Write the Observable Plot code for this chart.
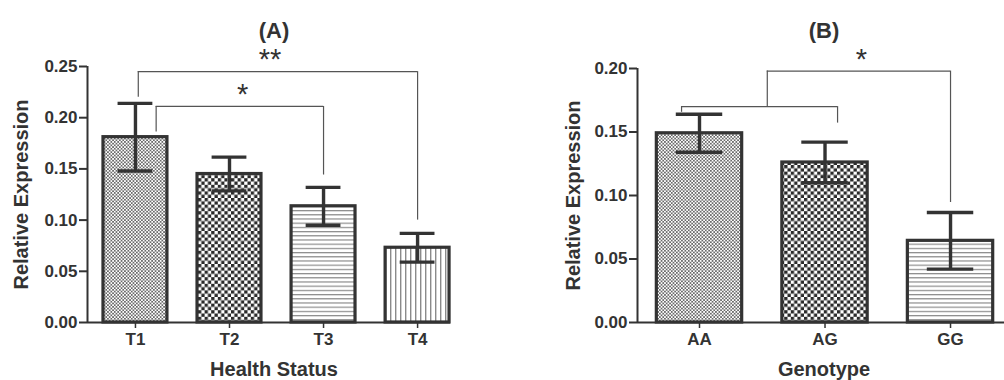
<!DOCTYPE html>
<html>
<head>
<meta charset="utf-8">
<script src="https://cdn.jsdelivr.net/npm/d3@7"></script>
<script src="https://cdn.jsdelivr.net/npm/@observablehq/plot@0.6"></script>
<style>
  html, body { margin: 0; padding: 0; background: #fff; }
  #wrap { position: relative; width: 1004px; height: 380px; overflow: hidden; }
  #panelA { position: absolute; left: 0; top: 0; }
  #panelB { position: absolute; left: 540px; top: 0; }
</style>
</head>
<body>
<div id="wrap"><div id="panelA"></div><div id="panelB"></div></div>
<script>
// ---------- Data ----------
// Panel A
const titleA = "(A)";
const xLabelA = "Health Status";
const categoriesA = ["T1", "T2", "T3", "T4"];
const meansA = [0.181, 0.145, 0.1135, 0.073];
const semA = [0.033, 0.0165, 0.0185, 0.014];
const patternsA = ["fine", "check", "hlines", "vlines"];
const yTicksA = [0, 0.05, 0.10, 0.15, 0.20, 0.25];
// significance brackets (A)
const bracketLabelsA = ["**", "*"];
const bracketLabelXA = [1.43, 1.14];
const bracketLeftA = [0.03, 0.22];
const bracketRightA = [3.0, 2.0];
const bracketTopA = [0.245, 0.211];
const bracketLeftEndA = [0.220, 0.186];
const bracketRightEndA = [0.100, 0.144];

// Panel B
const titleB = "(B)";
const xLabelB = "Genotype";
const categoriesB = ["AA", "AG", "GG"];
const meansB = [0.149, 0.126, 0.0643];
const semB = [0.015, 0.016, 0.0223];
const patternsB = ["fine", "check", "hlines"];
const yTicksB = [0, 0.05, 0.10, 0.15, 0.20];
// significance brackets (B)
const bracketLabelsB = ["", "*"];
const bracketLabelXB = [0.48, 1.29];
const bracketLeftB = [-0.143, 0.54];
const bracketRightB = [1.10, 2.0];
const bracketTopB = [0.170, 0.198];
const bracketLeftEndB = [0.1655, 0.170];
const bracketRightEndB = [0.157, 0.0945];

const yLabel = "Relative Expression";

// ---------- Styling ----------
const INK = "#333";
const FONT = "'Liberation Sans', Arial, Helvetica, sans-serif";
const BAR_HALF = 0.34;
const CAP_HALF = 0.185;

function addPatterns(svg, prefix) {
  const defs = d3.select(svg).insert("defs", ":first-child");
  // fine checker
  let p = defs.append("pattern").attr("id", prefix + "fine").attr("patternUnits", "userSpaceOnUse").attr("width", 3.4).attr("height", 3.4);
  p.append("rect").attr("width", 3.4).attr("height", 3.4).attr("fill", "#fff");
  p.append("rect").attr("width", 1.7).attr("height", 1.7).attr("fill", "#6a6a6a");
  p.append("rect").attr("x", 1.7).attr("y", 1.7).attr("width", 1.7).attr("height", 1.7).attr("fill", "#6a6a6a");
  // coarse checker
  p = defs.append("pattern").attr("id", prefix + "check").attr("patternUnits", "userSpaceOnUse").attr("width", 6.6).attr("height", 6.6);
  p.append("rect").attr("width", 6.6).attr("height", 6.6).attr("fill", "#fff");
  p.append("rect").attr("width", 3.3).attr("height", 3.3).attr("fill", "#2a2a2a");
  p.append("rect").attr("x", 3.3).attr("y", 3.3).attr("width", 3.3).attr("height", 3.3).attr("fill", "#2a2a2a");
  // horizontal lines
  p = defs.append("pattern").attr("id", prefix + "hlines").attr("patternUnits", "userSpaceOnUse").attr("width", 4.2).attr("height", 4.2);
  p.append("rect").attr("width", 4.2).attr("height", 4.2).attr("fill", "#fff");
  p.append("rect").attr("width", 4.2).attr("height", 1.2).attr("fill", "#8a8a8a");
  // vertical lines
  p = defs.append("pattern").attr("id", prefix + "vlines").attr("patternUnits", "userSpaceOnUse").attr("width", 5).attr("height", 5);
  p.append("rect").attr("width", 5).attr("height", 5).attr("fill", "#fff");
  p.append("rect").attr("width", 1.4).attr("height", 5).attr("fill", "#8a8a8a");
}

function panel({prefix, title, xLabel, cats, means, sem, pats, yTicks, yMax, xDomain,
                bLabels, bLabelX, bL, bR, bTop, bLEnd, bREnd, width, marginLeft, marginRight, marginTop,
                titleDx, titleDy, xLabelDx, xLabelDy, yLabelDx, starDy}) {
  const rows = cats.map((c, i) => ({i, cat: c, mean: means[i], lo: means[i] - sem[i], hi: means[i] + sem[i], pat: pats[i]}));
  const brackets = bLabels.map((t, k) => ({label: t, lx: bLabelX[k], x1: bL[k], x2: bR[k], top: bTop[k], lEnd: bLEnd[k], rEnd: bREnd[k]}));
  const svg = Plot.plot({
    width, height: 380,
    marginLeft, marginRight, marginTop, marginBottom: 58,
    style: {fontFamily: FONT, color: INK, background: "transparent", overflow: "visible"},
    x: {domain: xDomain},
    y: {domain: [0, yMax]},
    marks: [
      // brackets
      Plot.ruleY(brackets, {y: "top", x1: "x1", x2: "x2", stroke: "#555", strokeWidth: 1.2}),
      Plot.ruleX(brackets, {x: "x1", y1: "top", y2: "lEnd", stroke: "#555", strokeWidth: 1.2}),
      Plot.ruleX(brackets, {x: "x2", y1: "top", y2: "rEnd", stroke: "#555", strokeWidth: 1.2}),
      Plot.text(brackets, {x: "lx", y: "top", text: "label", fontSize: 29, fontWeight: "normal", fill: INK, lineAnchor: "middle", dy: starDy}),
      // bars
      Plot.rectY(rows, {x1: d => d.i - BAR_HALF, x2: d => d.i + BAR_HALF, y1: 0, y2: "mean",
        fill: d => `url(#${prefix}${d.pat})`, stroke: INK, strokeWidth: 3.2}),
      // error bars
      Plot.ruleX(rows, {x: "i", y1: "lo", y2: "hi", stroke: INK, strokeWidth: 3.4}),
      Plot.ruleY(rows, {y: "hi", x1: d => d.i - CAP_HALF, x2: d => d.i + CAP_HALF, stroke: INK, strokeWidth: 3.4}),
      Plot.ruleY(rows, {y: "lo", x1: d => d.i - CAP_HALF, x2: d => d.i + CAP_HALF, stroke: INK, strokeWidth: 3.4}),
      // axes
      Plot.ruleX([xDomain[0]], {stroke: INK, strokeWidth: 2}),
      Plot.ruleY([0], {stroke: INK, strokeWidth: 2}),
      Plot.axisY({ticks: yTicks, tickFormat: d3.format(".2f"), tickSize: 8, tickPadding: 2, fontSize: 17, fontWeight: "bold", stroke: INK, strokeWidth: 2, label: null}),
      Plot.axisX({ticks: cats.map((c, i) => i), tickFormat: i => cats[i], tickSize: 6, tickPadding: 4, fontSize: 17, fontWeight: "bold", stroke: INK, strokeWidth: 1.5, label: null}),
      // titles / labels
      Plot.text([title], {frameAnchor: "top", text: d => d, fontSize: 22, fontWeight: "bold", fill: INK, lineAnchor: "middle", dx: titleDx, dy: titleDy}),
      Plot.text([xLabel], {frameAnchor: "bottom", text: d => d, fontSize: 20, fontWeight: "bold", fill: INK, lineAnchor: "middle", dx: xLabelDx, dy: xLabelDy}),
      Plot.text([yLabel], {frameAnchor: "left", text: d => d, fontSize: 20, fontWeight: "bold", fill: INK, textAnchor: "middle", lineAnchor: "middle", rotate: -90, dx: yLabelDx})
    ]
  });
  addPatterns(svg, prefix);
  return svg;
}

document.getElementById("panelA").appendChild(panel({
  prefix: "a-", title: titleA, xLabel: xLabelA, cats: categoriesA, means: meansA, sem: semA, pats: patternsA,
  yTicks: yTicksA, yMax: 0.25, xDomain: [-0.51, 3.35],
  bLabels: bracketLabelsA, bLabelX: bracketLabelXA, bL: bracketLeftA, bR: bracketRightA, bTop: bracketTopA, bLEnd: bracketLeftEndA, bREnd: bracketRightEndA,
  width: 520, marginLeft: 87, marginRight: 70, marginTop: 66,
  titleDx: 5, titleDy: -36, xLabelDx: 5, xLabelDy: 47, yLabelDx: -66, starDy: -12
}));

document.getElementById("panelB").appendChild(panel({
  prefix: "b-", title: titleB, xLabel: xLabelB, cats: categoriesB, means: meansB, sem: semB, pats: patternsB,
  yTicks: yTicksB, yMax: 0.20, xDomain: [-0.494, 2.43],
  bLabels: bracketLabelsB, bLabelX: bracketLabelXB, bL: bracketLeftB, bR: bracketRightB, bTop: bracketTopB, bLEnd: bracketLeftEndB, bREnd: bracketRightEndB,
  width: 464, marginLeft: 97, marginRight: 0, marginTop: 68,
  titleDx: 3, titleDy: -38, xLabelDx: 3, xLabelDy: 47, yLabelDx: -64, starDy: -11
}));
</script>
</body>
</html>
